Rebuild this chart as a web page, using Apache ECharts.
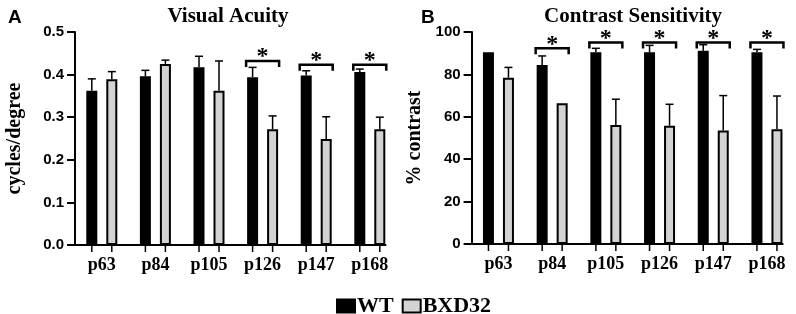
<!DOCTYPE html>
<html>
<head>
  <meta charset="utf-8">
  <title>Visual Acuity / Contrast Sensitivity</title>
  <script src="https://cdn.jsdelivr.net/npm/echarts@6/dist/echarts.min.js"></script>
  <style>
    html, body { margin: 0; padding: 0; background: #fff; }
    #chart { width: 796px; height: 314px; }
  </style>
</head>
<body>
  <div id="chart"></div>
  <script>
    // data
    var categories = ['p63', 'p84', 'p105', 'p126', 'p147', 'p168'];

    var acuityWT = [0.362, 0.396, 0.417, 0.394, 0.398, 0.406];
    var acuityWTSd = [0.028, 0.014, 0.026, 0.023, 0.011, 0.007];
    var acuityBXD = [0.389, 0.425, 0.362, 0.272, 0.249, 0.272];
    var acuityBXDSd = [0.018, 0.009, 0.070, 0.031, 0.052, 0.028];
    var acuitySig = [null, null, null, 0.432, 0.423, 0.423];

    var contrastWT = [90.4, 84.4, 90.4, 90.4, 91.2, 90.4];
    var contrastWTSd = [0.2, 4.3, 1.9, 3.3, 2.8, 1.4];
    var contrastBXD = [78.4, 66.4, 56.1, 55.8, 53.5, 54.1];
    var contrastBXDSd = [4.9, 0, 12.2, 10.1, 16.5, 15.7];
    var contrastSig = [null, 92.3, 95, 95, 95, 95];

    var acuityTicks = [0, 0.1, 0.2, 0.3, 0.4, 0.5];
    var contrastTicks = [0, 20, 40, 60, 80, 100];

    var BAR_W = 11;
    var BAR_GAP = 9;
    var SERIF = '"Liberation Serif", "Times New Roman", serif';
    var SANS = '"Liberation Sans", Arial, sans-serif';

    var chart = echarts.init(document.getElementById('chart'));

    function barSeries(name, idx, values, fill) {
      return {
        name: name,
        type: 'bar',
        xAxisIndex: idx,
        yAxisIndex: idx,
        data: values,
        barWidth: BAR_W,
        barGap: (BAR_GAP / BAR_W * 100) + '%',
        itemStyle: { color: fill, borderColor: '#000', borderWidth: 2 },
        emphasis: { disabled: true },
        z: 2
      };
    }

    // upper error bar + the little tick under each bar
    function errorSeries(idx, values, sds, side) {
      return {
        type: 'custom',
        xAxisIndex: idx,
        yAxisIndex: idx,
        clip: false,
        silent: true,
        z: 3,
        data: values.map(function (v, i) { return [i, v, v + sds[i]]; }),
        renderItem: function (params, api) {
          var i = api.value(0);
          var base = api.coord([i, 0]);
          var top = api.coord([i, api.value(1)]);
          var hi = api.coord([i, api.value(2)]);
          var x = base[0] + side * (BAR_W + BAR_GAP) / 2;
          var st = { stroke: '#000', lineWidth: 1.5 };
          var kids = [{
            type: 'line',
            shape: { x1: x, y1: base[1], x2: x, y2: base[1] + 7 },
            style: st
          }];
          if (hi[1] < top[1] - 0.8) {
            kids.push({ type: 'line', shape: { x1: x, y1: top[1], x2: x, y2: hi[1] }, style: st });
            kids.push({ type: 'line', shape: { x1: x - 4, y1: hi[1], x2: x + 4, y2: hi[1] }, style: st });
          }
          return { type: 'group', children: kids };
        }
      };
    }

    // significance bracket with a star
    function sigSeries(idx, sig) {
      var data = [];
      sig.forEach(function (v, i) { if (v != null) data.push([i, v]); });
      return {
        type: 'custom',
        xAxisIndex: idx,
        yAxisIndex: idx,
        clip: false,
        silent: true,
        z: 4,
        data: data,
        renderItem: function (params, api) {
          var p = api.coord([api.value(0), api.value(1)]);
          var half = (BAR_W + BAR_GAP) / 2 + BAR_W / 2 + 1;
          return {
            type: 'group',
            children: [{
              type: 'polyline',
              shape: { points: [[p[0] - half, p[1] + 6], [p[0] - half, p[1]], [p[0] + half, p[1]], [p[0] + half, p[1] + 6]] },
              style: { stroke: '#000', lineWidth: 2.5, fill: null }
            }, {
              type: 'text',
              x: p[0],
              y: p[1] + 8,
              style: { text: '*', font: 'bold 24px ' + SERIF, fill: '#000', align: 'center', verticalAlign: 'bottom' }
            }]
          };
        }
      };
    }

    // x axis line: from the y axis to the right edge of the last bar
    function baseSeries(idx) {
      return {
        type: 'custom',
        xAxisIndex: idx,
        yAxisIndex: idx,
        clip: false,
        silent: true,
        z: 5,
        data: [[0, categories.length - 1]],
        renderItem: function (params, api) {
          var band = api.size([1, 0])[0];
          var a = api.coord([api.value(0), 0]);
          var b = api.coord([api.value(1), 0]);
          var x1 = a[0] - band / 2;
          var x2 = b[0] + (BAR_W + BAR_GAP) / 2 + BAR_W / 2 + 1;
          return { type: 'line', shape: { x1: x1, y1: a[1], x2: x2, y2: a[1] }, style: { stroke: '#000', lineWidth: 2 } };
        }
      };
    }

    function xAxis(idx) {
      return {
        type: 'category',
        gridIndex: idx,
        data: categories,
        axisLine: { show: false },
        axisTick: { show: false },
        axisLabel: { color: '#000', fontFamily: SERIF, fontWeight: 'bold', fontSize: 18, margin: 11 }
      };
    }

    function yAxis(idx, ticks, name, gap, fmt) {
      return {
        type: 'value',
        gridIndex: idx,
        min: ticks[0],
        max: ticks[ticks.length - 1],
        interval: ticks[1] - ticks[0],
        name: name,
        nameLocation: 'middle',
        nameGap: gap,
        nameTextStyle: { color: '#000', fontFamily: SERIF, fontWeight: 'bold', fontSize: 20 },
        splitLine: { show: false },
        axisLine: { show: true, lineStyle: { color: '#000', width: 2 } },
        axisTick: { show: true, length: 8, lineStyle: { color: '#000', width: 2 } },
        axisLabel: { color: '#000', fontFamily: SANS, fontWeight: 'bold', fontSize: 15, margin: 11, formatter: fmt }
      };
    }

    var option = {
      animation: false,
      backgroundColor: '#fff',
      title: [
        { text: 'A', left: 3, top: 3, textStyle: { fontFamily: SANS, fontWeight: 'bold', fontSize: 19, color: '#000' } },
        { text: 'B', left: 416, top: 3, textStyle: { fontFamily: SANS, fontWeight: 'bold', fontSize: 19, color: '#000' } },
        { text: 'Visual Acuity', left: 223, top: 1, textAlign: 'center', textStyle: { fontFamily: SERIF, fontWeight: 'bold', fontSize: 21, color: '#000' } },
        { text: 'Contrast Sensitivity', left: 628, top: 1, textAlign: 'center', textStyle: { fontFamily: SERIF, fontWeight: 'bold', fontSize: 21, color: '#000' } }
      ],
      legend: {
        data: ['WT', 'BXD32'],
        left: 331,
        top: 290,
        itemWidth: 18,
        itemHeight: 13,
        itemGap: 8,
        icon: 'rect',
        selectedMode: false,
        textStyle: { color: '#000', fontFamily: SERIF, fontWeight: 'bold', fontSize: 22, padding: [0, 0, 0, -3] }
      },
      grid: [
        { left: 75, top: 32, width: 321.6, bottom: 69 },
        { left: 471.6, top: 32, width: 322.2, bottom: 70 }
      ],
      xAxis: [xAxis(0), xAxis(1)],
      yAxis: [
        yAxis(0, acuityTicks, 'cycles/degree', 50, function (v) { return v.toFixed(1); }),
        yAxis(1, contrastTicks, '% contrast', 47, function (v) { return String(v); })
      ],
      series: [
        barSeries('WT', 0, acuityWT, '#000'),
        barSeries('BXD32', 0, acuityBXD, '#d3d3d3'),
        errorSeries(0, acuityWT, acuityWTSd, -1),
        errorSeries(0, acuityBXD, acuityBXDSd, 1),
        sigSeries(0, acuitySig),
        baseSeries(0),
        barSeries('WT', 1, contrastWT, '#000'),
        barSeries('BXD32', 1, contrastBXD, '#d3d3d3'),
        errorSeries(1, contrastWT, contrastWTSd, -1),
        errorSeries(1, contrastBXD, contrastBXDSd, 1),
        sigSeries(1, contrastSig),
        baseSeries(1)
      ]
    };

    chart.setOption(option);
  </script>
</body>
</html>
